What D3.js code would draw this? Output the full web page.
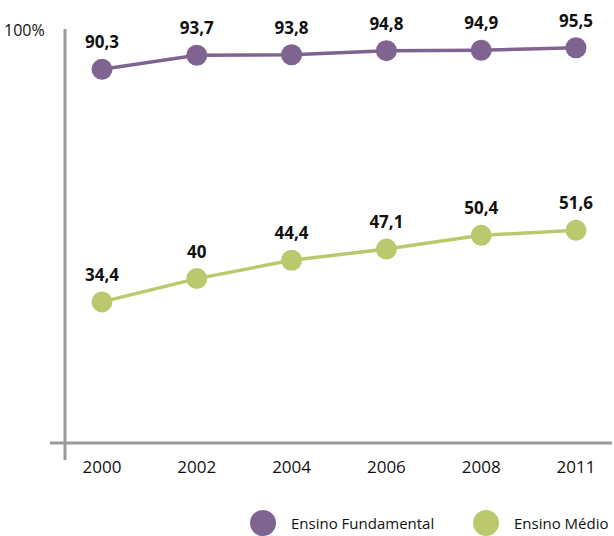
<!DOCTYPE html>
<html>
<head>
<meta charset="utf-8">
<script src="https://cdn.jsdelivr.net/npm/d3@7"></script>
<style>
  html, body { margin: 0; padding: 0; background: #fff; }
  svg { display: block; font-family: "Open Sans", "Noto Sans", sans-serif; }
</style>
</head>
<body>
<script>
// School attendance rates by level, Brazil
const years = ["2000", "2002", "2004", "2006", "2008", "2011"];
const fundamental = [90.3, 93.7, 93.8, 94.8, 94.9, 95.5];
const medio = [34.4, 40, 44.4, 47.1, 50.4, 51.6];
const seriesNames = ["Ensino Fundamental", "Ensino Médio"];
const seriesColors = ["#7f6391", "#bcc86e"];
const yTickLabel = "100%";

const W = 614, H = 536;
const svg = d3.select("body").append("svg").attr("width", W).attr("height", H);

const x = d3.scalePoint().domain(years).range([102, 576]);
const y = d3.scaleLinear().domain([0, 100]).range([445, 29]);

// axes
svg.append("line").attr("x1", 65).attr("x2", 65).attr("y1", 29).attr("y2", 460)
  .attr("stroke", "#9a9a9e").attr("stroke-width", 3);
svg.append("line").attr("x1", 50).attr("x2", 612).attr("y1", 443).attr("y2", 443)
  .attr("stroke", "#9a9a9e").attr("stroke-width", 3);

svg.append("text").attr("x", 4).attr("y", 36).attr("font-size", 16).attr("fill", "#111")
  .text(yTickLabel);

svg.selectAll(".xl").data(years).join("text").attr("class", "xl")
  .attr("x", d => x(d)).attr("y", 473).attr("text-anchor", "middle")
  .attr("font-size", 17).attr("fill", "#111").text(d => d);

const fmt = v => String(v).replace(".", ",");
const series = [fundamental, medio];
series.forEach((vals, i) => {
  const pts = years.map((yr, j) => ({ yr, v: vals[j] }));
  const line = d3.line().x(d => x(d.yr)).y(d => y(d.v));
  svg.append("path").datum(pts).attr("d", line).attr("fill", "none")
    .attr("stroke", seriesColors[i]).attr("stroke-width", 3.5);
  svg.selectAll(".c" + i).data(pts).join("circle").attr("class", "c" + i)
    .attr("cx", d => x(d.yr)).attr("cy", d => y(d.v)).attr("r", 10.5)
    .attr("fill", seriesColors[i]);
  svg.selectAll(".l" + i).data(pts).join("text").attr("class", "l" + i)
    .attr("x", d => x(d.yr)).attr("y", d => y(d.v) - 21)
    .attr("text-anchor", "middle").attr("font-size", 17).attr("font-weight", "bold")
    .attr("fill", "#111").text(d => fmt(d.v));
});

// legend
const legX = [263, 486];
seriesNames.forEach((name, i) => {
  svg.append("circle").attr("cx", legX[i]).attr("cy", 523).attr("r", 13)
    .attr("fill", seriesColors[i]);
  svg.append("text").attr("x", legX[i] + 28).attr("y", 529).attr("font-size", 15)
    .attr("fill", "#111").text(name);
});
</script>
</body>
</html>
